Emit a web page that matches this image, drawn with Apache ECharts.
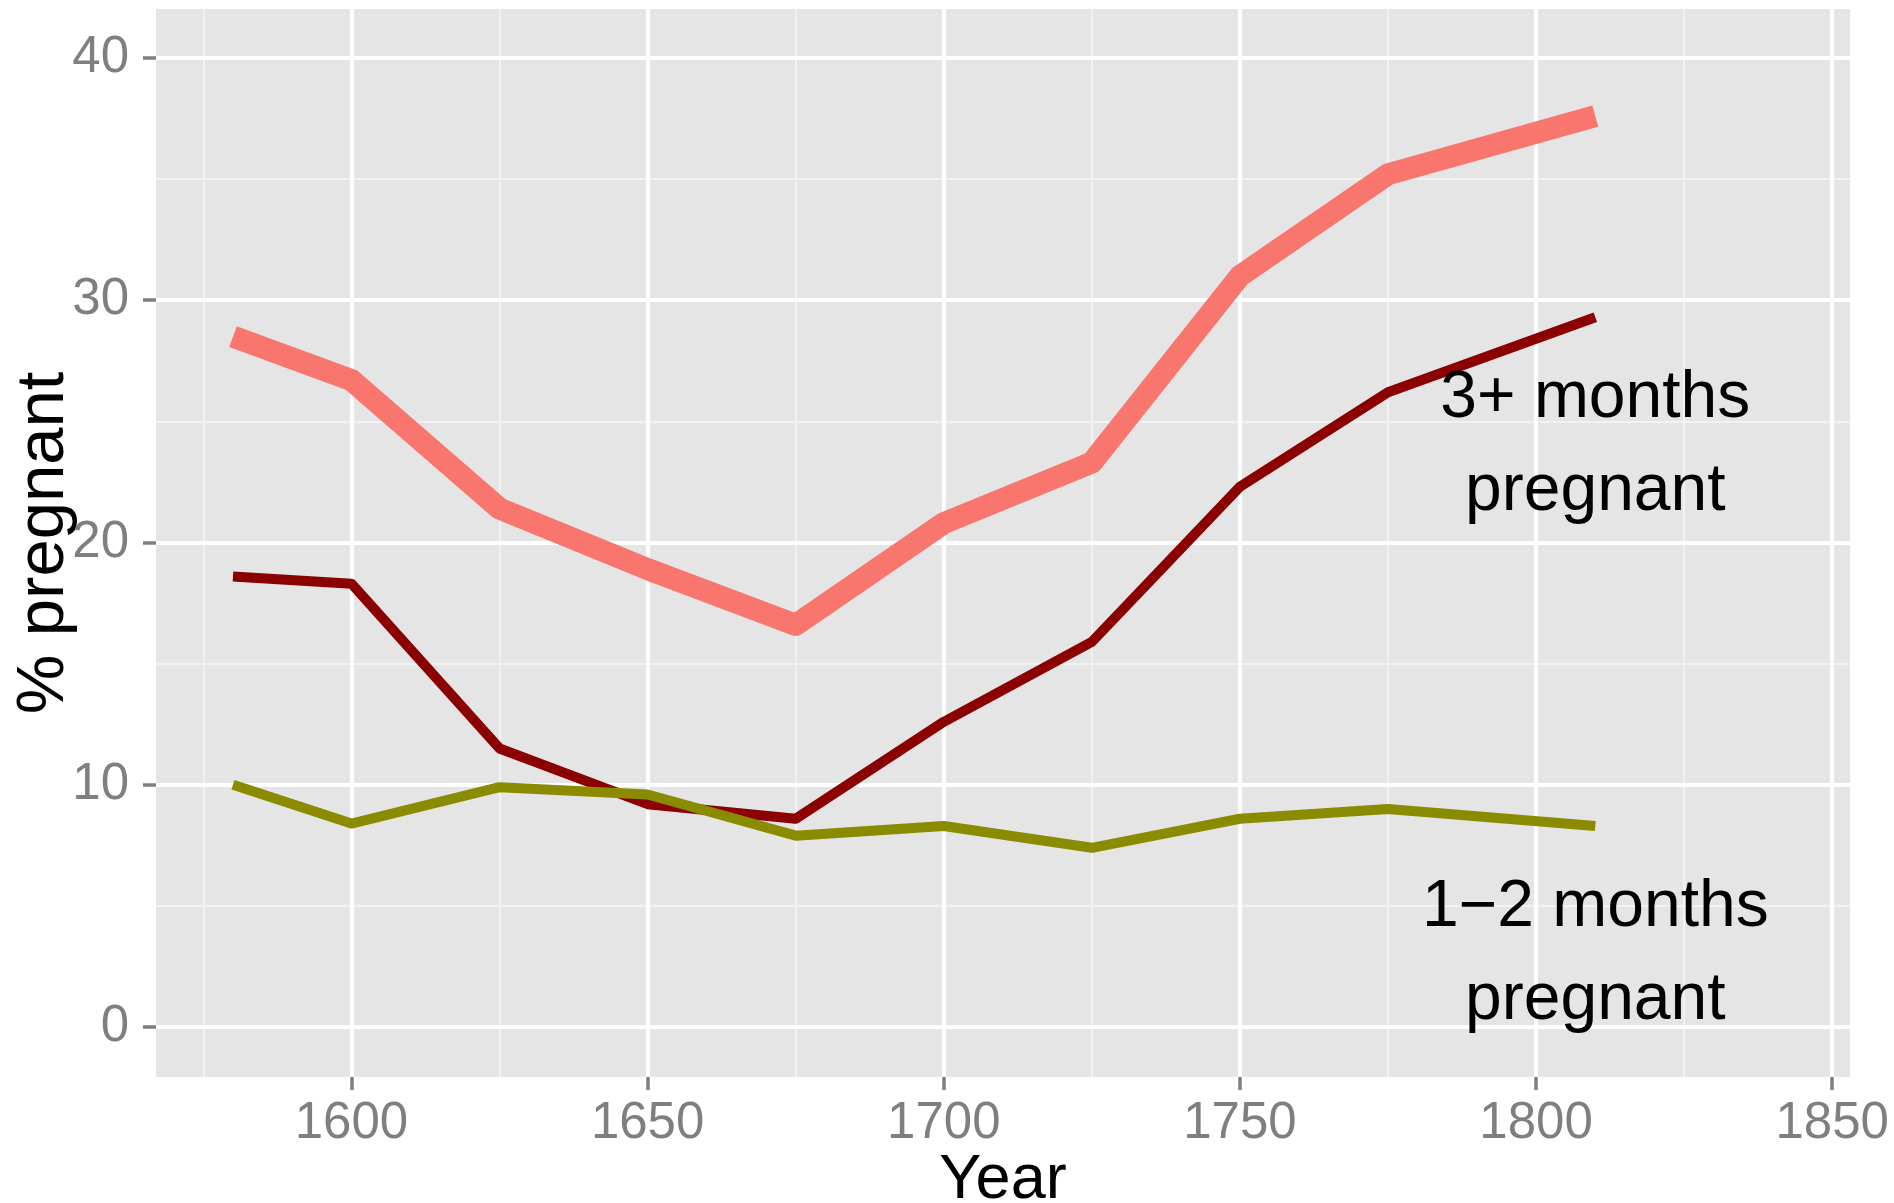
<!DOCTYPE html>
<html>
<head>
<meta charset="utf-8">
<title>% pregnant by year</title>
<script src="https://cdn.jsdelivr.net/npm/echarts@6/dist/echarts.min.js"></script>
<style>
html, body { margin: 0; padding: 0; background: #fff; }
#chartDiv { width: 1894px; height: 1203px; }
</style>
</head>
<body>
<div id="chartDiv"></div>
<script>
// data
var years = [1580, 1600, 1625, 1650, 1675, 1700, 1725, 1750, 1775, 1810];
var total = [28.5, 26.7, 21.4, 18.9, 16.6, 20.8, 23.3, 31.0, 35.2, 37.6];
var threePlus = [18.6, 18.3, 11.5, 9.2, 8.6, 12.6, 15.9, 22.3, 26.2, 29.3];
var oneTwo = [10.0, 8.4, 9.9, 9.6, 7.9, 8.3, 7.4, 8.6, 9.0, 8.3];

var xTicks = [1600, 1650, 1700, 1750, 1800, 1850];
var xMinor = [1575, 1625, 1675, 1725, 1775, 1825];
var yTicks = [0, 10, 20, 30, 40];
var yMinor = [5, 15, 25, 35];

var noteText = ['3+ months\npregnant', '1\u22122 months\npregnant'];
var noteX = [1810, 1810];
var noteY = [24, 3];

var app = {};
app.font = 'Liberation Sans';
app.tickGrey = '#7F7F7F';

function pairs(xs, ys) {
	var out = [];
	for (var i = 0; i < xs.length; i++) {
		out.push([xs[i], ys[i]]);
	}
	return out;
}

function lineSeries(name, vals, color, width) {
	return {
		name: name,
		type: 'line',
		xAxisIndex: 0,
		yAxisIndex: 0,
		data: pairs(years, vals),
		showSymbol: false,
		symbol: 'none',
		z: 3,
		silent: true,
		lineStyle: { color: color, width: width, cap: 'butt', join: 'round' }
	};
}

var notes = [];
for (var i = 0; i < noteText.length; i++) {
	notes.push({ value: [noteX[i], noteY[i]], label: { formatter: noteText[i] } });
}

app.chart = echarts.init(document.getElementById('chartDiv'), null, { renderer: 'canvas' });

var option = {
	backgroundColor: '#ffffff',
	animation: false,
	grid: {
		left: 156, top: 9, width: 1694, height: 1068,
		outerBoundsMode: 'none', containLabel: false,
		show: true, backgroundColor: '#E5E5E5', borderWidth: 0, z: 0
	},
	xAxis: [{
		type: 'value', min: 1567, max: 1853, z: 2,
		axisLine: { show: false, onZero: false },
		axisTick: { show: true, length: 13, customValues: xTicks, lineStyle: { color: app.tickGrey, width: 3.5 } },
		axisLabel: {
			customValues: xTicks, margin: 21, color: app.tickGrey, fontSize: 51, fontFamily: app.font,
			formatter: function (v) { return String(v); }
		},
		splitLine: { show: true, lineStyle: { color: '#ffffff', width: 4 } },
		name: 'Year', nameLocation: 'middle', nameGap: 72, nameMoveOverlap: false,
		nameTextStyle: { color: '#000', fontSize: 63, fontFamily: app.font }
	}, {
		type: 'value', min: 1567, max: 1853, z: 1,
		axisLine: { show: false, onZero: false },
		axisTick: { show: false, customValues: xMinor },
		axisLabel: { show: false, customValues: xMinor },
		splitLine: { show: true, lineStyle: { color: '#F2F2F2', width: 2 } }
	}],
	yAxis: [{
		type: 'value', min: -2.06, max: 42.02, z: 2,
		axisLine: { show: false, onZero: false },
		axisTick: { show: true, length: 13, customValues: yTicks, lineStyle: { color: app.tickGrey, width: 3.5 } },
		axisLabel: { customValues: yTicks, margin: 27, color: app.tickGrey, fontSize: 51, fontFamily: app.font },
		splitLine: { show: true, lineStyle: { color: '#ffffff', width: 4 } },
		name: '% pregnant', nameLocation: 'middle', nameGap: 78, nameMoveOverlap: false,
		nameTextStyle: { color: '#000', fontSize: 67, fontFamily: app.font }
	}, {
		type: 'value', min: -2.06, max: 42.02, z: 1,
		axisLine: { show: false, onZero: false },
		axisTick: { show: false, customValues: yMinor },
		axisLabel: { show: false, customValues: yMinor },
		splitLine: { show: true, lineStyle: { color: '#F2F2F2', width: 2 } }
	}],
	series: [
		lineSeries('total', total, '#F8766D', 22),
		lineSeries('3+ months', threePlus, '#8B0000', 10),
		lineSeries('1-2 months', oneTwo, '#8B8B00', 10),
		{
			type: 'scatter',
			xAxisIndex: 0,
			yAxisIndex: 0,
			symbolSize: 0,
			z: 4,
			silent: true,
			data: notes,
			label: {
				show: true, position: 'inside', align: 'center', verticalAlign: 'middle',
				color: '#000000', opacity: 1, textBorderWidth: 0,
				fontSize: 66, lineHeight: 93, fontFamily: app.font
			}
		}
	]
};

app.chart.setOption(option);
</script>
</body>
</html>
